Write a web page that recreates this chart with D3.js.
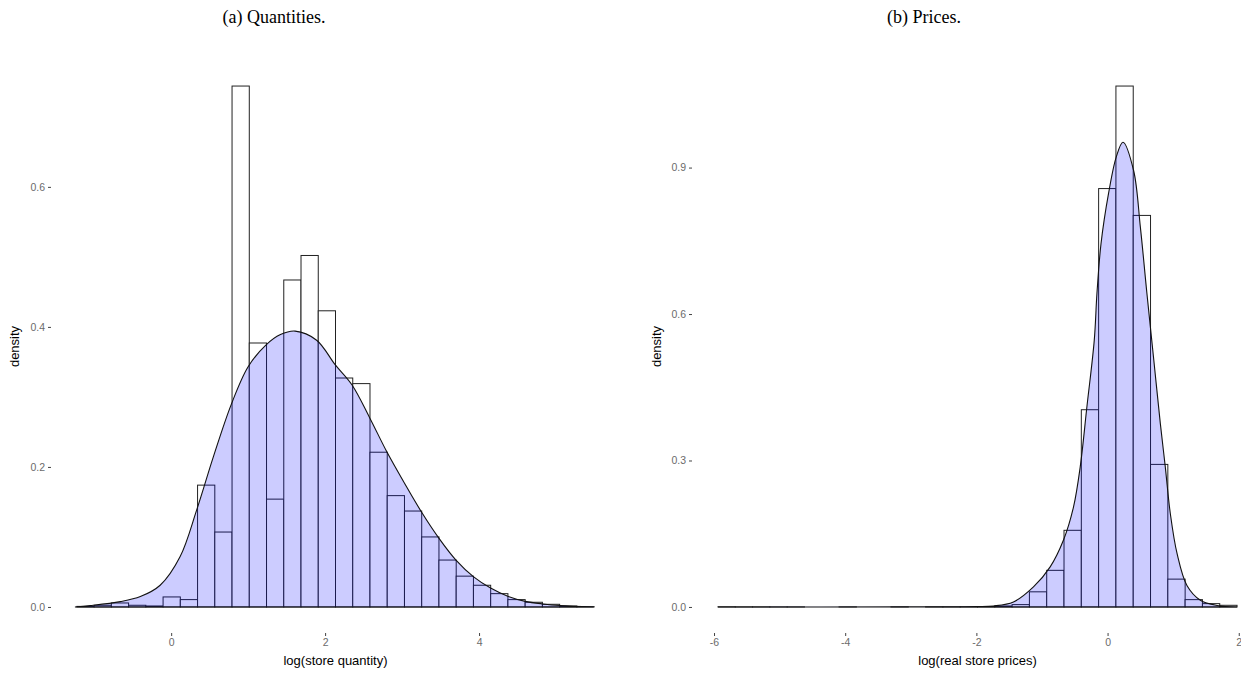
<!DOCTYPE html>
<html>
<head>
<meta charset="utf-8">
<script src="https://cdn.jsdelivr.net/npm/d3@7"></script>
<style>
  body { margin: 0; background: #fff; }
  svg { display: block; }
</style>
</head>
<body>
<svg id="chart" width="1241" height="675"></svg>
<script>
// (a) quantities: 30 histogram bins + kernel density
const qtyBinStart = -1.225;
const qtyBinWidth = 0.224;
const qtyBins = [0.0008, 0.0024, 0.0057, 0.0024, 0.0014, 0.0143, 0.0105, 0.174, 0.107, 0.744,
  0.377, 0.154, 0.467, 0.502, 0.423, 0.327, 0.319, 0.221, 0.159, 0.137,
  0.100, 0.067, 0.044, 0.031, 0.019, 0.0105, 0.0067, 0.0038, 0.0014, 0.0005];
const qtyDensity = [[-1.25, 0], [-1.05, 0.002], [-0.66, 0.0076], [-0.40, 0.0148], [-0.143, 0.031],
  [0.117, 0.072], [0.333, 0.139], [0.55, 0.215], [0.78, 0.289], [1.0, 0.343], [1.23, 0.374],
  [1.42, 0.389], [1.61, 0.394], [1.89, 0.381], [2.13, 0.346], [2.35, 0.317], [2.58, 0.27],
  [2.80, 0.222], [3.03, 0.177], [3.25, 0.136], [3.48, 0.098], [3.70, 0.067], [3.93, 0.043],
  [4.15, 0.027], [4.38, 0.015], [4.60, 0.008], [4.83, 0.0043], [5.05, 0.002], [5.49, 0]];
const qtyXTicks = [0, 2, 4];
const qtyYTicks = [0, 0.2, 0.4, 0.6];

// (b) prices
const priceBinStart = -5.94;
const priceBinWidth = 0.2638;
const priceBins = [0.0004, 0.0002, 0.0002, 0.0001, 0.0001, 0, 0, 0.0001, 0, 0,
  0.0001, 0, 0.0001, 0.0001, 0.0003, 0.0008, 0.002, 0.0048, 0.031, 0.075,
  0.157, 0.404, 0.857, 1.067, 0.802, 0.292, 0.057, 0.015, 0.0068, 0.0034];
const priceDensity = [[-5.94, 0], [-3.0, 0.0002], [-2.0, 0.0008], [-1.74, 0.002], [-1.435, 0.0102],
  [-1.13, 0.041], [-0.875, 0.082], [-0.672, 0.137], [-0.519, 0.205], [-0.417, 0.287],
  [-0.315, 0.41], [-0.203, 0.546], [-0.162, 0.642], [-0.10, 0.744], [0.015, 0.847],
  [0.133, 0.922], [0.235, 0.952], [0.397, 0.894], [0.5, 0.778], [0.60, 0.642], [0.70, 0.512],
  [0.805, 0.375], [0.88, 0.287], [0.957, 0.191], [1.06, 0.109], [1.21, 0.044], [1.415, 0.0137],
  [1.67, 0.003], [1.975, 0]];
const priceXTicks = [-6, -4, -2, 0, 2];
const priceYTicks = [0, 0.3, 0.6, 0.9];

const svg = d3.select('#chart');

const drawPanel = (opts) => {
  const { title, titleX, left, right, top, bottom, binStart, binWidth, bins, density,
    xTicks, yTicks, xTitle, yTitleX } = opts;

  // ggplot-style 5% expansion
  const x0 = binStart, x1 = binStart + bins.length * binWidth;
  const yMax = Math.max(d3.max(bins), d3.max(density, d => d[1]));
  const xPad = (x1 - x0) * 0.05, yPad = yMax * 0.05;

  const x = d3.scaleLinear().domain([x0 - xPad, x1 + xPad]).range([left, right]);
  const y = d3.scaleLinear().domain([-yPad, yMax + yPad]).range([bottom, top]);

  const g = svg.append('g');

  // histogram
  g.selectAll('rect.bin')
    .data(bins)
    .join('rect')
    .attr('class', 'bin')
    .attr('x', (d, i) => x(binStart + i * binWidth))
    .attr('width', x(binStart + binWidth) - x(binStart))
    .attr('y', d => y(d))
    .attr('height', d => y(0) - y(d))
    .attr('fill', '#fff')
    .attr('stroke', '#222')
    .attr('stroke-width', 1);

  // density (full outline incl. baseline)
  const area = d3.area()
    .x(d => x(d[0]))
    .y0(y(0))
    .y1(d => Math.max(0, d[1]) === 0 ? y(0) : y(d[1]))
    .curve(d3.curveCatmullRom.alpha(0.5));

  g.append('path')
    .datum(density)
    .attr('d', area)
    .attr('fill', 'rgba(0,0,255,0.2)')
    .attr('stroke', '#111')
    .attr('stroke-width', 1.1);

  // axes
  const xAxis = g.append('g')
    .attr('transform', `translate(0,${bottom})`)
    .call(d3.axisBottom(x).tickValues(xTicks).tickFormat(d => String(d)).tickSize(3).tickPadding(3));
  const yAxis = g.append('g')
    .attr('transform', `translate(${left},0)`)
    .call(d3.axisLeft(y).tickValues(yTicks).tickFormat(d3.format('.1f')).tickSize(3).tickPadding(3));

  [xAxis, yAxis].forEach(a => {
    a.select('.domain').remove();
    a.selectAll('line').attr('stroke', '#444');
    a.selectAll('text')
      .attr('fill', '#6b6b6b')
      .style('font-family', 'Liberation Sans, Arial, sans-serif')
      .style('font-size', '10.5px');
  });

  g.append('text')
    .attr('x', (left + right) / 2)
    .attr('y', bottom + 32)
    .attr('text-anchor', 'middle')
    .style('font-family', 'Liberation Sans, Arial, sans-serif')
    .style('font-size', '13px')
    .text(xTitle);

  g.append('text')
    .attr('transform', `translate(${yTitleX},${(top + bottom) / 2}) rotate(-90)`)
    .attr('text-anchor', 'middle')
    .style('font-family', 'Liberation Sans, Arial, sans-serif')
    .style('font-size', '13px')
    .text('density');

  svg.append('text')
    .attr('x', titleX)
    .attr('y', 23)
    .attr('text-anchor', 'middle')
    .style('font-family', 'Liberation Serif, DejaVu Serif, serif')
    .style('font-size', '18px')
    .text(title);
};

drawPanel({
  title: '(a) Quantities.', titleX: 274,
  left: 51, right: 620, top: 60, bottom: 633,
  binStart: qtyBinStart, binWidth: qtyBinWidth, bins: qtyBins, density: qtyDensity,
  xTicks: qtyXTicks, yTicks: qtyYTicks, xTitle: 'log(store quantity)', yTitleX: 19
});

drawPanel({
  title: '(b) Prices.', titleX: 924,
  left: 692, right: 1263, top: 60, bottom: 633,
  binStart: priceBinStart, binWidth: priceBinWidth, bins: priceBins, density: priceDensity,
  xTicks: priceXTicks, yTicks: priceYTicks, xTitle: 'log(real store prices)', yTitleX: 661
});
</script>
</body>
</html>
